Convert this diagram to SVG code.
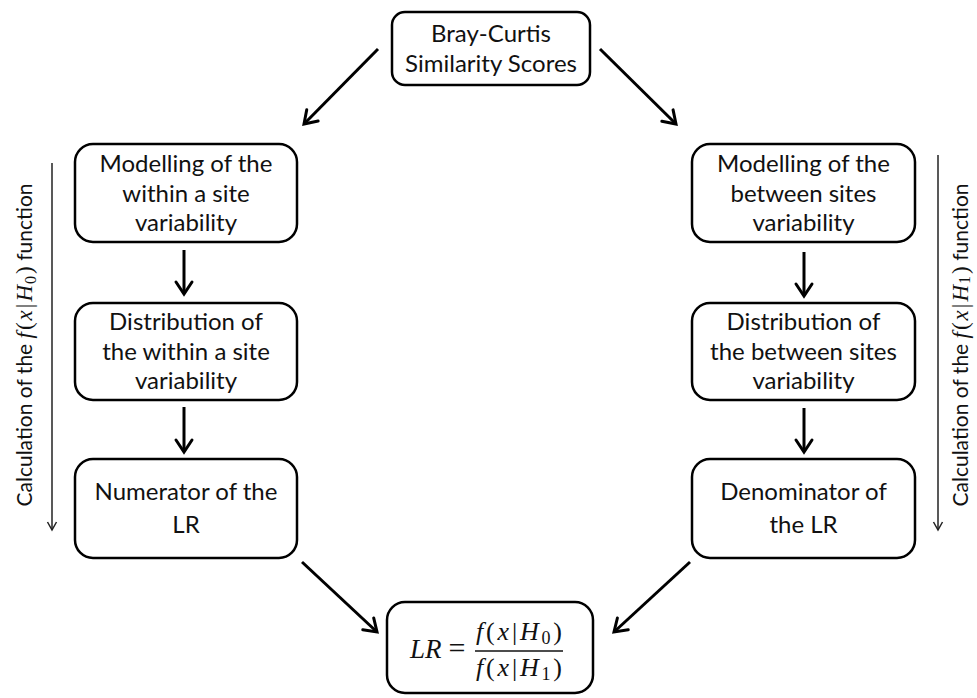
<svg xmlns="http://www.w3.org/2000/svg" width="977" height="698" viewBox="0 0 977 698">
<style>
.box{fill:#fff;stroke:#000;stroke-width:2.5}
.lbl{font-family:Lato,"Liberation Sans",sans-serif;font-size:24px;fill:#111;text-anchor:middle}
.side{font-family:Lato,"Liberation Sans",sans-serif;font-size:21px;fill:#111;text-anchor:middle}
.m{font-family:"Liberation Serif","DejaVu Serif",serif;font-style:italic}
.mu{font-family:"Liberation Serif","DejaVu Serif",serif;font-style:normal}
.arr{stroke:#000;stroke-width:3;fill:none;marker-end:url(#ah)}
.thin{stroke:#222;stroke-width:1.5;fill:none;marker-end:url(#ahs)}
</style>
<defs>
<marker id="ah" markerUnits="userSpaceOnUse" viewBox="-16 -12 20 24" refX="0" refY="0" markerWidth="20" markerHeight="24" orient="auto">
<path d="M-12,-8 L0,0 L-12,8" fill="none" stroke="#000" stroke-width="3" stroke-linecap="round"/>
</marker>
<marker id="ahs" markerUnits="userSpaceOnUse" viewBox="-10 -7 12 14" refX="0" refY="0" markerWidth="12" markerHeight="14" orient="auto">
<path d="M-8,-4.5 L0,0 L-8,4.5" fill="none" stroke="#222" stroke-width="1.5"/>
</marker>
</defs>

<g id="connectors">
<path class="arr" d="M378,49 L304,124"/>
<path class="arr" d="M600,49 L676,124"/>
<path class="arr" d="M184,250 L184,294"/>
<path class="arr" d="M184,407 L184,452"/>
<path class="arr" d="M804,252 L804,296"/>
<path class="arr" d="M804,408 L804,452"/>
<path class="arr" d="M302,562 L377,632"/>
<path class="arr" d="M690,562 L614,632"/>
<path class="thin" d="M52,163 L52,530"/>
<path class="thin" d="M938,155 L938,530"/>
</g>

<g id="n-top">
<rect class="box" x="392" y="12" width="198" height="73" rx="13"/>
<text class="lbl"><tspan x="491" y="42">Bray-Curtis</tspan><tspan x="491" y="72">Similarity Scores</tspan></text>
</g>

<g id="n-l1">
<rect class="box" x="75" y="144" width="222" height="98" rx="18"/>
<text class="lbl"><tspan x="186" y="172">Modelling of the</tspan><tspan x="186" y="202">within a site</tspan><tspan x="186" y="231">variability</tspan></text>
</g>
<g id="n-l2">
<rect class="box" x="75" y="303" width="222" height="97" rx="18"/>
<text class="lbl"><tspan x="186" y="330">Distribution of</tspan><tspan x="186" y="360">the within a site</tspan><tspan x="186" y="389">variability</tspan></text>
</g>
<g id="n-l3">
<rect class="box" x="75" y="459" width="222" height="99" rx="18"/>
<text class="lbl"><tspan x="186" y="500">Numerator of the</tspan><tspan x="186" y="533">LR</tspan></text>
</g>

<g id="n-r1">
<rect class="box" x="692" y="144" width="223" height="98" rx="18"/>
<text class="lbl"><tspan x="803.5" y="172">Modelling of the</tspan><tspan x="803.5" y="202">between sites</tspan><tspan x="803.5" y="231">variability</tspan></text>
</g>
<g id="n-r2">
<rect class="box" x="692" y="303" width="223" height="97" rx="18"/>
<text class="lbl"><tspan x="803.5" y="330">Distribution of</tspan><tspan x="803.5" y="360">the between sites</tspan><tspan x="803.5" y="389">variability</tspan></text>
</g>
<g id="n-r3">
<rect class="box" x="692" y="459" width="223" height="99" rx="18"/>
<text class="lbl"><tspan x="803.5" y="500">Denominator of</tspan><tspan x="803.5" y="533">the LR</tspan></text>
</g>

<g id="n-lr">
<rect class="box" x="387" y="602" width="206" height="91" rx="18"/>
<text class="m" x="410" y="658" font-size="27" fill="#111">LR</text>
<text class="mu" x="457" y="658" font-size="30" text-anchor="middle" fill="#111">=</text>
<line x1="475" y1="651" x2="563" y2="651" stroke="#111" stroke-width="1.5"/>
<text class="mu" x="519" y="640" font-size="26" text-anchor="middle" fill="#111" textLength="86" lengthAdjust="spacing"><tspan class="m">f</tspan>(<tspan class="m">x</tspan>|<tspan class="m">H</tspan><tspan font-size="18" dy="4">0</tspan><tspan dy="-4">)</tspan></text>
<text class="mu" x="519" y="676" font-size="26" text-anchor="middle" fill="#111" textLength="86" lengthAdjust="spacing"><tspan class="m">f</tspan>(<tspan class="m">x</tspan>|<tspan class="m">H</tspan><tspan font-size="18" dy="4">1</tspan><tspan dy="-4">)</tspan></text>
</g>

<g id="side-left">
<text class="side" transform="translate(32,345) rotate(-90)">Calculation of the <tspan class="m" font-size="23" letter-spacing="2">f</tspan><tspan class="mu" font-size="23" letter-spacing="2">(</tspan><tspan class="m" font-size="23" letter-spacing="2">x</tspan><tspan class="mu" font-size="23" letter-spacing="2">|</tspan><tspan class="m" font-size="23" letter-spacing="1">H</tspan><tspan class="mu" font-size="16" dy="4" letter-spacing="2">0</tspan><tspan class="mu" font-size="23" dy="-4">)</tspan> function</text>
</g>
<g id="side-right">
<text class="side" transform="translate(968,345) rotate(-90)">Calculation of the <tspan class="m" font-size="23" letter-spacing="2">f</tspan><tspan class="mu" font-size="23" letter-spacing="2">(</tspan><tspan class="m" font-size="23" letter-spacing="2">x</tspan><tspan class="mu" font-size="23" letter-spacing="2">|</tspan><tspan class="m" font-size="23" letter-spacing="1">H</tspan><tspan class="mu" font-size="16" dy="2" letter-spacing="2">1</tspan><tspan class="mu" font-size="23" dy="-2">)</tspan> function</text>
</g>
</svg>
